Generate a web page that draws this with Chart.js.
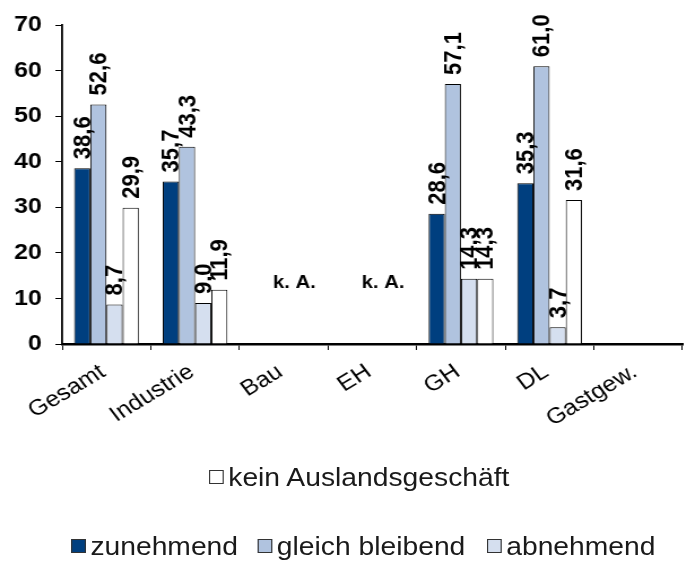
<!DOCTYPE html>
<html><head><meta charset="utf-8">
<script src="https://cdn.jsdelivr.net/npm/chart.js@4.4.1/dist/chart.umd.min.js"></script>
<style>
html,body{margin:0;padding:0;background:#fff;overflow:hidden;width:688px;height:561px;}
#stage{position:absolute;left:0;top:0;width:609px;height:561px;transform:scaleX(1.13);transform-origin:0 0;font-family:"Liberation Sans",Arial,sans-serif;}
#wrap{position:absolute;left:0;top:0;width:609px;height:440px;}
.lg{position:absolute;display:flex;align-items:center;font-size:25px;color:#1a1a1a;white-space:nowrap;line-height:1;height:26px;}
.lg i{display:inline-block;width:11px;height:12px;border:1.4px solid #333;margin-right:4px;box-sizing:content-box;}
</style></head>
<body>
<div id="stage"><div id="wrap"><canvas id="c"></canvas></div><div id="legend"></div></div>
<script>
const categories = ['Gesamt','Industrie','Bau','EH','GH','DL','Gastgew.'];
const seriesNames = ['zunehmend','gleich bleibend','abnehmend','kein Auslandsgeschäft'];
const zunehmend = [38.6, 35.7, null, null, 28.6, 35.3, null];
const gleichBleibend = [52.6, 43.3, null, null, 57.1, 61.0, null];
const abnehmend = [8.7, 9.0, null, null, 14.3, 3.7, null];
const keinAuslandsgeschaeft = [29.9, 11.9, null, null, 14.3, 31.6, null];
const yTicks = [0, 10, 20, 30, 40, 50, 60, 70];
const noDataLabel = 'k. A.';
const noDataCategories = ['Bau', 'EH'];
const noDataValue = 13.3;

const FAM = '"Liberation Sans", Arial, sans-serif';
const colors = ['#003F7F', '#B0C3DF', '#D5DFEF', '#FFFFFF'];
const seriesData = [zunehmend, gleichBleibend, abnehmend, keinAuslandsgeschaeft];

const labelPlugin = {
  id: 'vals',
  afterDatasetsDraw(chart) {
    const ctx = chart.ctx;
    ctx.save();
    ctx.fillStyle = '#000';
    ctx.font = 'bold 22px ' + FAM;
    chart.data.datasets.forEach((ds, di) => {
      const meta = chart.getDatasetMeta(di);
      meta.data.forEach((el, i) => {
        const v = ds.data[i];
        if (v == null) return;
        ctx.save();
        ctx.translate(el.x + 1, el.y - 9);
        ctx.rotate(-Math.PI / 2);
        ctx.textAlign = 'left';
        ctx.textBaseline = 'middle';
        ctx.fillText(v.toFixed(1).replace('.', ','), 0, 0);
        ctx.restore();
      });
    });
    const xs = chart.scales.x, ys = chart.scales.y;
    const cw = xs.width / categories.length;
    ctx.font = 'bold 18px ' + FAM;
    ctx.textAlign = 'center';
    ctx.textBaseline = 'middle';
    noDataCategories.forEach(c => {
      const i = categories.indexOf(c);
      ctx.fillText(noDataLabel, xs.getPixelForValue(i) + cw * 0.12, ys.getPixelForValue(noDataValue));
    });
    ctx.restore();
  }
};

const chart = new Chart(document.getElementById('c'), {
  type: 'bar',
  data: {
    labels: categories,
    datasets: seriesNames.map((n, k) => ({
      label: n,
      data: seriesData[k],
      backgroundColor: colors[k],
      borderColor: '#000',
      borderWidth: 1,
      categoryPercentage: 0.73,
      barPercentage: 1.0
    }))
  },
  options: {
    responsive: true,
    maintainAspectRatio: false,
    animation: false,
    devicePixelRatio: 1,
    layout: { padding: { top: 23, right: 5, left: 0, bottom: 0 } },
    plugins: { legend: { display: false }, tooltip: { enabled: false } },
    scales: {
      x: {
        grid: { display: true, drawOnChartArea: false, drawTicks: true, tickLength: 6, color: '#000', offset: true },
        border: { display: true, color: '#000', width: 2.5 },
        ticks: { color: '#000', font: { size: 22, family: FAM }, maxRotation: 34, minRotation: 34, padding: 9, labelOffset: -3, autoSkip: false },
        afterFit(s) { s.height = 96; }
      },
      y: {
        min: 0, max: 70,
        afterBuildTicks(s) { s.ticks = yTicks.map(v => ({ value: v })); },
        grid: { drawOnChartArea: false, drawTicks: true, tickLength: 6, color: '#000' },
        border: { display: true, color: '#000', width: 1.8 },
        ticks: { color: '#000', font: { size: 22, weight: 'bold', family: FAM }, padding: 12 },
        afterFit(s) { s.width = 55; }
      }
    }
  },
  plugins: [labelPlugin]
});

// HTML legend built from the chart's datasets
const legendPos = [
  { left: 63, top: 533 },
  { left: 228, top: 533 },
  { left: 431, top: 533 },
  { left: 185, top: 464 }
];
const lg = document.getElementById('legend');
chart.data.datasets.forEach((ds, k) => {
  const d = document.createElement('div');
  d.className = 'lg';
  d.style.left = legendPos[k].left + 'px';
  d.style.top = legendPos[k].top + 'px';
  const b = document.createElement('i');
  b.style.background = ds.backgroundColor;
  d.appendChild(b);
  d.appendChild(document.createTextNode(ds.label));
  lg.appendChild(d);
});
</script>
</body></html>
